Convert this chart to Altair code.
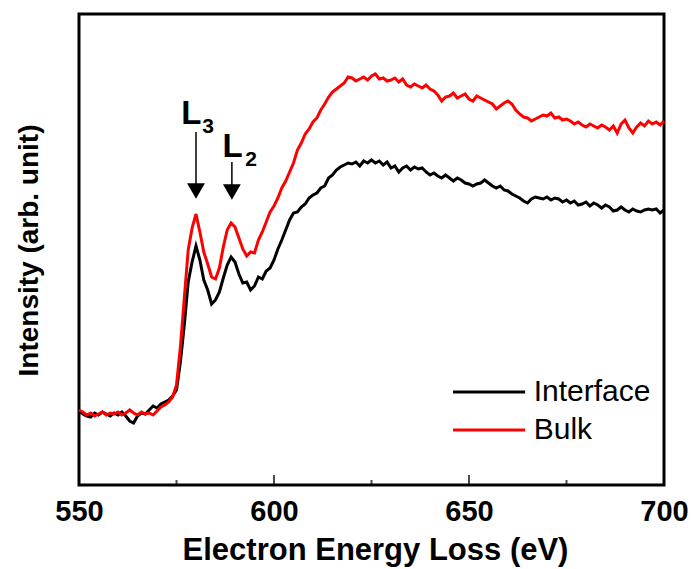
import altair as alt
import pandas as pd

# ---- data (arb. units) ----
energy = list(range(550, 701))

interface = [
    74, 71, 69, 68, 72, 70, 73, 71, 69, 72,      # 550-559
    70, 73, 69, 64, 62, 69, 72, 71, 75, 79,      # 560-569
    77, 81, 83, 85, 89, 95, 123, 160, 203, 223,  # 570-579
    239, 225, 205, 195, 181, 185, 193, 207, 220, 228,  # 580-589
    223, 211, 202, 203, 195, 199, 208, 206, 214, 217,  # 590-599
    225, 236, 245, 255, 265, 272, 273, 278, 281, 287,  # 600-609
    290, 292, 297, 299, 307, 310, 315, 318, 320, 322,  # 610-619
    321, 323, 319, 324, 322, 325, 322, 324, 320, 323,  # 620-629
    317, 319, 313, 317, 319, 315, 318, 316, 317, 313,  # 630-639
    310, 312, 309, 307, 310, 307, 304, 307, 305, 302,  # 640-649
    301, 299, 301, 302, 305, 302, 299, 297, 299, 295,  # 650-659
    294, 291, 289, 287, 284, 282, 286, 288, 287, 286,  # 660-669
    288, 285, 287, 286, 283, 285, 282, 284, 280, 281,  # 670-679
    283, 279, 282, 280, 277, 280, 278, 274, 275, 278,  # 680-689
    275, 273, 276, 274, 273, 275, 276, 275, 276, 272,  # 690-699
    275,                                               # 700
]

bulk = [
    75, 73, 70, 72, 69, 71, 73, 70, 72, 71,      # 550-559
    73, 70, 72, 75, 72, 70, 73, 71, 72, 70,      # 560-569
    74, 78, 80, 83, 88, 100, 138, 187, 235, 257, # 570-579
    271, 253, 233, 221, 208, 206, 217, 238, 255, 262,  # 580-589
    258, 247, 236, 229, 233, 232, 245, 253, 263, 273,  # 590-599
    279, 287, 297, 304, 313, 322, 335, 342, 351, 356,  # 600-609
    363, 367, 375, 381, 388, 393, 396, 399, 402, 408,  # 610-619
    407, 404, 406, 408, 405, 409, 411, 406, 407, 404,  # 620-629
    405, 407, 403, 406, 400, 398, 401, 399, 397, 400,  # 630-639
    396, 394, 390, 384, 388, 389, 392, 387, 389, 391,  # 640-649
    386, 384, 389, 387, 385, 383, 381, 376, 379, 382,  # 650-659
    384, 381, 375, 371, 368, 367, 364, 366, 368, 370,  # 660-669
    369, 372, 367, 368, 365, 366, 364, 361, 363, 360,  # 670-679
    358, 361, 359, 357, 360, 358, 355, 359, 352, 361,  # 680-689
    365, 357, 352, 358, 362, 359, 364, 361, 363, 360,  # 690-699
    364,                                               # 700
]

series_names = ["Interface", "Bulk"]
series_colors = ["#000000", "#ff0000"]

x_tick_labels = [550, 600, 650, 700]
major_ticks = [600, 650]
minor_ticks = [575, 625, 675]

# annotation (data units)
peak_energy = [580.0, 589.2]
arrow_top = [353, 323]
arrow_bottom = [300, 299]
arrow_head = [294, 293]
label_main = ["L", "L"]
label_main_x = [576.2, 586.8]
label_main_y = [361, 328]
label_sub = ["3", "2"]
label_sub_x = [581.6, 592.6]
label_sub_y = [352, 319]

legend_x = [645.9, 645.9]
legend_x2 = [664.4, 664.4]
legend_y = [93, 55]
legend_text_x = [666.6, 666.6]

FONT = "Liberation Sans"

# ---- tables ----
df_int = pd.DataFrame({"energy": energy, "intensity": interface})
df_bulk = pd.DataFrame({"energy": energy, "intensity": bulk})
df_major = pd.DataFrame({"energy": major_ticks})
df_minor = pd.DataFrame({"energy": minor_ticks})
df_arrow = pd.DataFrame({"x": peak_energy, "y": arrow_top, "y2": arrow_bottom, "yh": arrow_head})
df_lab = pd.DataFrame({"x": label_main_x, "y": label_main_y, "t": label_main})
df_sub = pd.DataFrame({"x": label_sub_x, "y": label_sub_y, "t": label_sub})
df_leg = pd.DataFrame({"x": legend_x, "x2": legend_x2, "y": legend_y, "tx": legend_text_x,
                       "name": series_names, "color": series_colors})

xscale = alt.Scale(domain=[550, 700], nice=False, zero=False)
yscale = alt.Scale(domain=[0, 471], nice=False, zero=False)

xaxis = alt.Axis(
    values=x_tick_labels, format="d", grid=False, ticks=False, tickSize=0, domain=False,
    labelFont=FONT, labelFontSize=29, labelFontWeight="bold", labelColor="black",
    labelFlush=False, labelOverlap=False, labelPadding=35, labelBaseline="alphabetic",
    title="Electron Energy Loss (eV)", titleFont=FONT, titleFontSize=31, titleFontWeight="bold",
    titleColor="black", titleX=296, titleY=74, titleAlign="center", titleBaseline="alphabetic",
)
yaxis = alt.Axis(
    labels=False, ticks=False, domain=False, grid=False,
    title="Intensity (arb. unit)", titleFont=FONT, titleFontSize=28, titleFontWeight="bold",
    titleColor="black", titleAngle=-90, titleX=-42, titleY=236, titleAlign="center",
    titleBaseline="alphabetic",
)

line_int = alt.Chart(df_int).mark_line(color="#000000", strokeWidth=3).encode(
    x=alt.X("energy:Q", scale=xscale, axis=xaxis),
    y=alt.Y("intensity:Q", scale=yscale, axis=yaxis),
)
line_bulk = alt.Chart(df_bulk).mark_line(color="#ff0000", strokeWidth=3).encode(
    x="energy:Q", y="intensity:Q",
)

ticks_major = alt.Chart(df_major).mark_tick(orient="vertical", size=10, thickness=2,
                                              yOffset=-5, color="black").encode(
    x="energy:Q", y=alt.datum(0),
)
ticks_minor = alt.Chart(df_minor).mark_tick(orient="vertical", size=5, thickness=2,
                                              yOffset=-2.5, color="black").encode(
    x="energy:Q", y=alt.datum(0),
)

arrow_lines = alt.Chart(df_arrow).mark_rule(color="black", strokeWidth=1.5).encode(
    x="x:Q", y="y:Q", y2="y2:Q",
)
arrow_heads = alt.Chart(df_arrow).mark_point(shape="triangle-down", filled=True, size=320,
                                              color="black", opacity=1).encode(
    x="x:Q", y="yh:Q",
)
lab_main = alt.Chart(df_lab).mark_text(font=FONT, fontSize=33, fontWeight="bold", align="left",
                                       baseline="alphabetic", color="black").encode(
    x="x:Q", y="y:Q", text="t:N",
)
lab_sub = alt.Chart(df_sub).mark_text(font=FONT, fontSize=21, fontWeight="bold", align="left",
                                      baseline="alphabetic", color="black").encode(
    x="x:Q", y="y:Q", text="t:N",
)

leg_lines = alt.Chart(df_leg).mark_rule(strokeWidth=3).encode(
    x="x:Q", x2="x2:Q", y="y:Q", color=alt.Color("color:N", scale=None),
)
leg_text = alt.Chart(df_leg).mark_text(font=FONT, fontSize=30, align="left", baseline="middle",
                                       color="black").encode(
    x="tx:Q", y="y:Q", text="name:N",
)

chart = alt.layer(
    line_int, line_bulk, ticks_major, ticks_minor, arrow_lines, arrow_heads,
    lab_main, lab_sub, leg_lines, leg_text,
).properties(
    width=585, height=471,
    autosize=alt.AutoSizeParams(type="none"),
    padding={"left": 79, "top": 14, "right": 30, "bottom": 84},
    background="white",
).configure_view(stroke="black", strokeWidth=3)

chart.save("out.html", embed_options={"renderer": "svg", "actions": False})
